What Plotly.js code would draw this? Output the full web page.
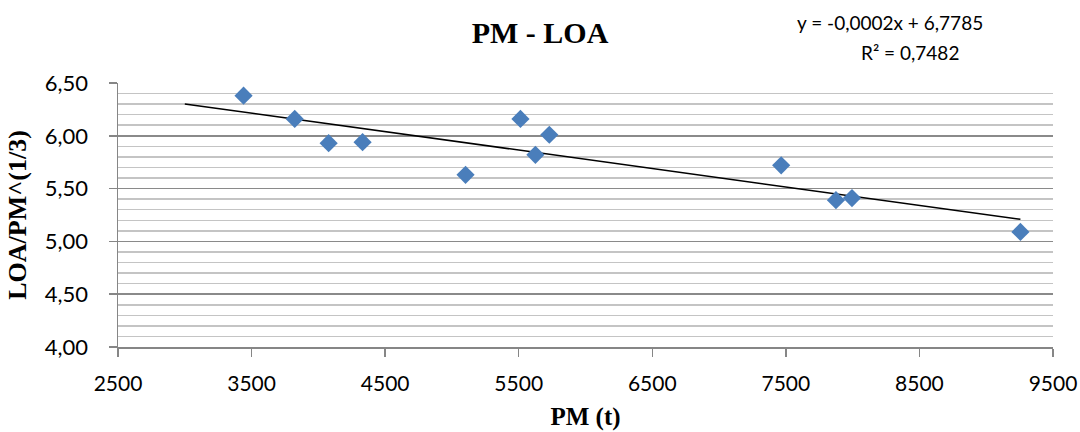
<!DOCTYPE html>
<html>
<head>
<meta charset="utf-8">
<script src="https://cdn.plot.ly/plotly-3.0.1.min.js"></script>
<style>html,body{margin:0;padding:0;background:#fff;}#chart{width:1080px;height:432px;}</style>
</head>
<body>
<div id="chart"></div>
<script>
// Data
var pm = [3440, 3823, 4077, 4331, 5102, 5513, 5625, 5729, 7465, 7875, 7995, 9256];
var loaRatio = [6.38, 6.16, 5.93, 5.94, 5.63, 6.16, 5.82, 6.01, 5.72, 5.39, 5.41, 5.09];
var trendStart = 3000;
var chartTitle = "PM - LOA";
var eqLine1 = "y = -0,0002x + 6,7785";
var eqLine2 = "R² = 0,7482";
var xTitle = "PM (t)";
var yTitle = "LOA/PM^(1/3)";

// Linear regression for the trend line
var n = pm.length, sx = 0, sy = 0, sxx = 0, sxy = 0;
for (var i = 0; i < n; i++) { sx += pm[i]; sy += loaRatio[i]; sxx += pm[i]*pm[i]; sxy += pm[i]*loaRatio[i]; }
var slope = (n*sxy - sx*sy) / (n*sxx - sx*sx);
var intercept = (sy - slope*sx) / n;
var trendX = [trendStart, Math.max.apply(null, pm)];
var trendY = trendX.map(function(x){ return intercept + slope*x; });

var data = [
  {x: trendX, y: trendY, type: 'scatter', mode: 'lines',
   line: {color: '#000000', width: 1.5}, hoverinfo: 'skip', showlegend: false},
  {x: pm, y: loaRatio, type: 'scatter', mode: 'markers',
   marker: {symbol: 'diamond', size: 14, color: '#4a7ebb'}, showlegend: false}
];

var serif = '"Liberation Serif", "Times New Roman", serif';
var sans = 'Lato, "Open Sans", sans-serif';

var layout = {
  width: 1080, height: 432,
  margin: {l: 118, r: 27, t: 83, b: 85},
  paper_bgcolor: '#ffffff', plot_bgcolor: '#ffffff',
  separators: ', ',
  font: {family: sans, color: '#000000', size: 21},
  title: {text: '<b>' + chartTitle + '</b>', x: 0.5, xref: 'container', xanchor: 'center',
          y: 1 - 32/432, yref: 'container', yanchor: 'middle',
          font: {family: serif, size: 30, color: '#000000'}},
  xaxis: {
    range: [2500, 9500], dtick: 1000, tick0: 2500, tickformat: 'd',
    showgrid: false, zeroline: false,
    showline: true, linecolor: '#868686', linewidth: 1.5,
    ticks: 'outside', ticklen: 8, tickcolor: '#868686', tickwidth: 1.5,
    ticklabelstandoff: 9, ticklabeloverflow: 'allow',
    tickfont: {family: sans, size: 21, color: '#000'},
    title: {text: '<b>' + xTitle + '</b>', standoff: 14,
            font: {family: serif, size: 25, color: '#000'}}
  },
  yaxis: {
    range: [4, 6.5], dtick: 0.5, tick0: 4, tickformat: '.2f',
    showgrid: true, gridcolor: '#8a8a8a', gridwidth: 1.5, zeroline: false,
    showline: true, linecolor: '#868686', linewidth: 1.5,
    ticks: 'outside', ticklen: 8, tickcolor: '#868686', tickwidth: 1.5,
    ticklabelstandoff: 16, ticklabeloverflow: 'allow',
    minor: {dtick: 0.1, showgrid: true, gridcolor: '#c4c4c4', gridwidth: 1.5, ticks: ''},
    tickfont: {family: sans, size: 22, color: '#000'},
    title: {text: '<b>' + yTitle + '</b>', standoff: 10,
            font: {family: serif, size: 26, color: '#000'}}
  },
  annotations: [
    {text: eqLine1, xref: 'paper', yref: 'paper', x: 0.826, y: 1.231, xanchor: 'center', yanchor: 'middle', showarrow: false,
     font: {family: sans, size: 19, color: '#000'}},
    {text: eqLine2, xref: 'paper', yref: 'paper', x: 0.847, y: 1.117, xanchor: 'center', yanchor: 'middle', showarrow: false,
     font: {family: sans, size: 19, color: '#000'}}
  ]
};

Plotly.newPlot('chart', data, layout, {displayModeBar: false, staticPlot: true});
</script>
</body>
</html>
